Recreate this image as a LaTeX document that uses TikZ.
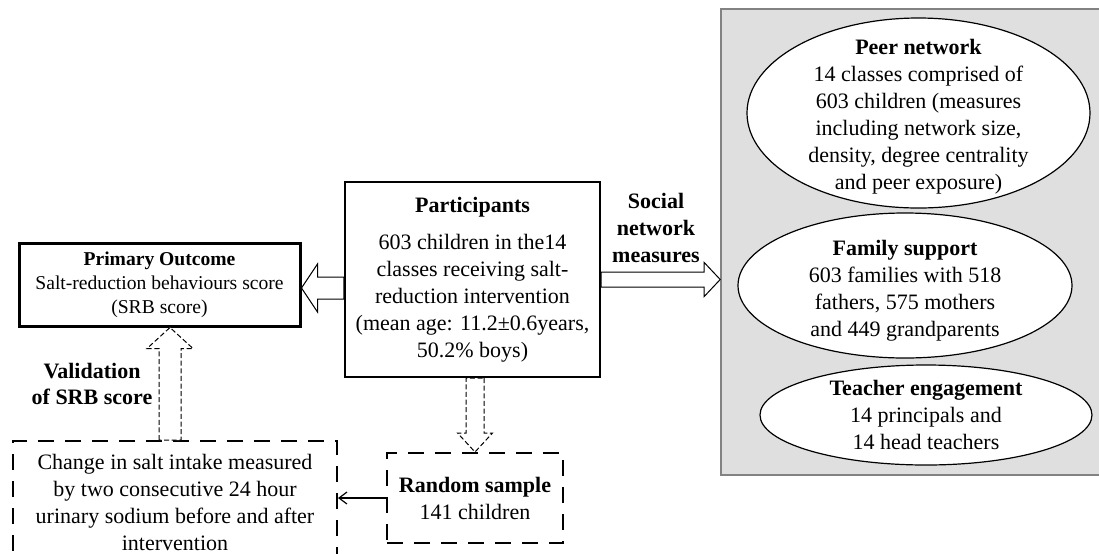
\documentclass[tikz,border=0pt]{standalone}
\usepackage{fontspec}
\setmainfont{Liberation Serif}
\usepackage{xcolor}
\usetikzlibrary{arrows.meta,calc,shapes.geometric}

\definecolor{netgray}{RGB}{223,223,223}
\definecolor{netedge}{RGB}{130,130,130}

% hollow block arrow: [style] tail, tip, shaft half, head half, head length
\newcommand{\blockarrow}[6][hollow]{%
  \coordinate (ba-b) at ($(#3)!#6!(#2)$);
  \draw[#1] ($(#2)!#4!90:(#3)$) -- ($(ba-b)!#4!-90:(#2)$) -- ($(ba-b)!#5!-90:(#2)$)
    -- (#3) -- ($(ba-b)!#5!90:(#2)$) -- ($(ba-b)!#4!90:(#2)$) -- ($(#2)!#4!-90:(#3)$) -- cycle;}

\begin{document}
\begin{tikzpicture}[
    x=0.5pt, y=-0.5pt,
    txt/.style={font=\fontsize{11}{13.5}\selectfont, align=center, inner sep=0pt},
    solidbox/.style={txt, draw, line width=1.1pt},
    dashbox/.style={txt, draw, line width=1pt, dash pattern=on 8pt off 5.5pt},
    oval/.style={ellipse, draw, line width=0.6pt, fill=white, inner sep=0pt},
    hollow/.style={draw, fill=white, line width=0.5pt, line join=miter},
    hollowdash/.style={hollow, dash pattern=on 2.5pt off 1.3pt}
  ]
    \useasboundingbox (0,0) rectangle (1099,553);

    % social network panel
    \node[draw=netedge, fill=netgray, line width=0.8pt, minimum width=194.5pt, minimum height=233pt] (net) at (915.5,242) {};
    \node[oval, minimum width=171.5pt, minimum height=95pt] (peer) at (918.5,113) {};
    \node[oval, minimum width=167pt, minimum height=72.5pt] (fam) at (905,285.5) {};
    \node[oval, minimum width=166pt, minimum height=50pt] (teach) at (926,415) {};
    \node[txt] (peertxt) at (918.5,117) {\textbf{Peer network}\\14 classes comprised of\\603 children (measures\\including network size,\\density, degree centrality\\and peer exposure)};
    \node[txt] (famtxt) at (905,290.5) {\textbf{Family support}\\603 families with 518\\fathers, 575 mothers\\and 449 grandparents};
    \node[txt] (teachtxt) at (926,415) {\textbf{Teacher engagement}\\14 principals and\\14 head teachers};

    % study boxes
    \node[solidbox, line width=1.5pt, minimum width=140.5pt, minimum height=41.5pt, font=\fontsize{9.8}{12}\selectfont] (prim) at (159.5,284.5) {\textbf{Primary Outcome}\\Salt-reduction behaviours score\\(SRB score)};
    \node[solidbox, minimum width=127.5pt, minimum height=97.5pt] (part) at (472.5,279.5) {\textbf{Participants}\\[4.75pt]603 children in the14\\classes receiving salt-\\reduction intervention\\(mean age: 11.2±0.6years,\\50.2\% boys)};
    \node[dashbox, minimum width=162pt, minimum height=61pt] (change) at (175,502) {Change in salt intake measured\\by two consecutive 24 hour\\urinary sodium before and after\\intervention};
    \node[dashbox, minimum width=88pt, minimum height=45pt] (rand) at (475,498) {\textbf{Random sample}\\141 children};

    % labels
    \node[txt, font=\fontsize{11}{13.5}\selectfont\bfseries] (soclab) at (656,228) {Social\\network\\measures};
    \node[txt, font=\fontsize{11}{13}\selectfont\bfseries] (vallab) at (92,383.5) {Validation\\of SRB score};

    % arrows
    \coordinate (la-tail) at ($(part.west)+(0,8.5)$);
    \coordinate (la-tip) at (prim.east |- la-tail);
    \blockarrow{la-tail}{la-tip}{5.5pt}{12pt}{8pt}
    \coordinate (ra-tip) at (net.west |- part.east);
    \blockarrow{part.east}{ra-tip}{3.75pt}{8.5pt}{8pt}
    \coordinate (va-tail) at ($(change.north)+(-5,0)$);
    \coordinate (va-tip) at (prim.south -| va-tail);
    \blockarrow[hollowdash]{va-tail}{va-tip}{5.5pt}{11.5pt}{10.5pt}
    \coordinate (da-tail) at (rand.north |- part.south);
    \blockarrow[hollowdash]{da-tail}{rand.north}{4.5pt}{8.75pt}{9.5pt}
    \draw[-{Straight Barb[length=4pt,width=6pt]}, line width=0.6pt] (rand.west) -- (change.east |- rand.west);
  \end{tikzpicture}
\end{document}
